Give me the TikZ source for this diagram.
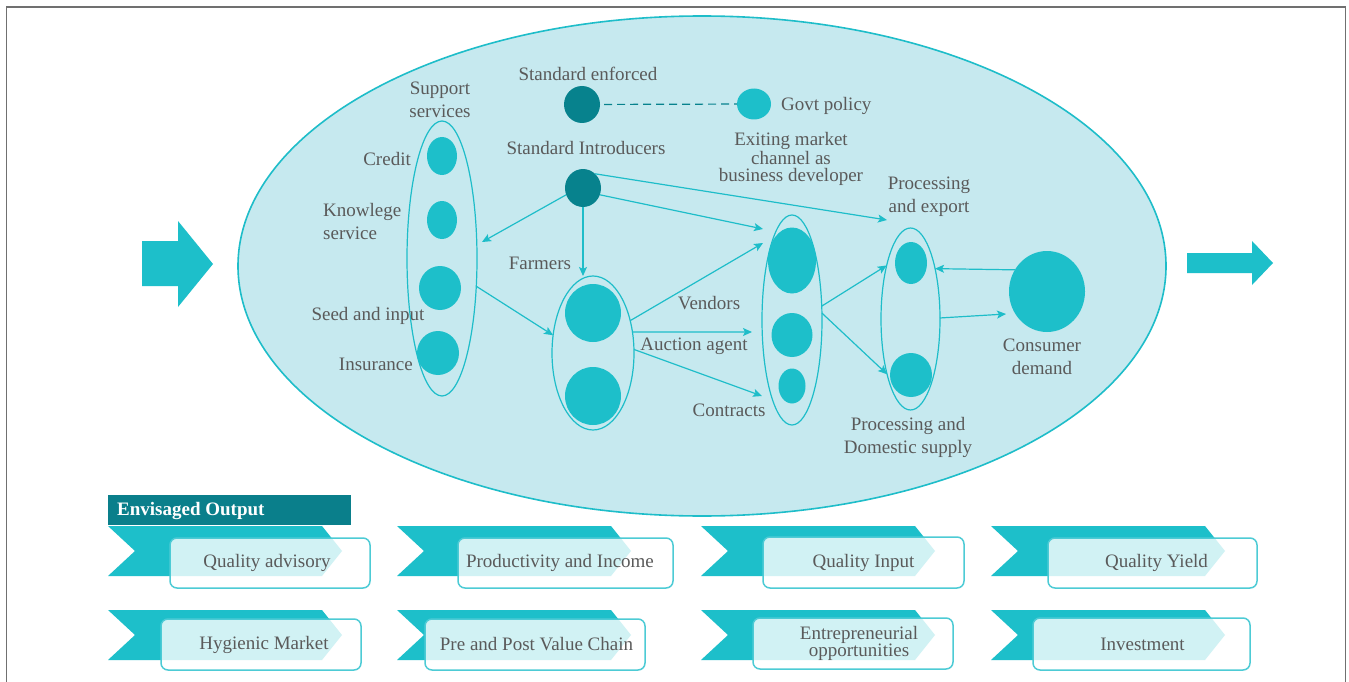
\documentclass[tikz,border=0pt]{standalone}
\usepackage{fontspec}
\setmainfont{Liberation Serif}
\usetikzlibrary{shapes.geometric,arrows.meta}
\definecolor{teallt}{HTML}{1DBFCA}
\definecolor{tealdk}{HTML}{07828D}
\definecolor{bgell}{HTML}{C6E9EF}
\definecolor{edgec}{HTML}{1EBDC9}
\definecolor{txt}{HTML}{5A5A5A}
\definecolor{boxedge}{HTML}{4DCBD5}
\definecolor{framec}{HTML}{707070}
\definecolor{barc}{HTML}{0A7F8B}
\newcommand\mychev[2]{\fill[teallt] (#1,#2) -- ++(214,0) -- ++(20,25) -- ++(-20,25) -- ++(-214,0) -- ++(27,-25) -- cycle;}
\newcommand\shiftx[2]{\hspace*{#1pt}#2\hspace*{-#1pt}}
\begin{document}
\begin{tikzpicture}[x=1pt,y=-1pt,
  lbl/.style={font=\fontsize{19}{23}\selectfont, text=txt, inner sep=0pt, align=center},
  dot/.style={ellipse, fill=teallt, draw=none, inner sep=0pt, outer sep=0pt},
  grp/.style={ellipse, draw=edgec, line width=1.2pt, inner sep=0pt, outer sep=0pt},
  arr/.style={draw=edgec, line width=1.2pt, -{Stealth[length=9pt,width=8pt,inset=2pt]}},
  outbox/.style={rectangle, rounded corners=7pt, draw=boxedge, line width=1.5pt, fill=white, fill opacity=0.8, text opacity=1, text=txt, font=\fontsize{19}{17}\selectfont, inner sep=0pt, align=center}
]
\useasboundingbox (0,0) rectangle (1349,682);
\fill[white] (0,0) rectangle (1349,682);
\draw[framec, line width=1.6pt] (6.5,690) -- (6.5,7) -- (1345.5,7) -- (1345.5,690);

% big ellipse
\node[ellipse, draw=edgec, fill=bgell, line width=1.6pt, inner sep=0pt, minimum width=928pt, minimum height=500pt] (big) at (702,266) {};

% big arrows
\fill[teallt] (142,241) -- (178,241) -- (178,221) -- (213,264) -- (178,307) -- (178,286) -- (142,286) -- cycle;
\fill[teallt] (1187,253) -- (1252,253) -- (1252,241) -- (1273,263) -- (1252,285) -- (1252,273) -- (1187,273) -- cycle;

% support services
\node[grp, minimum width=70pt, minimum height=275pt] (sup) at (442,258.5) {};
\node[dot, minimum width=30pt, minimum height=38pt] (cr) at (442,156) {};
\node[dot, minimum width=30pt, minimum height=38pt] (kn) at (442,220) {};
\node[dot, minimum width=42pt, minimum height=44pt] (sd) at (440,288) {};
\node[dot, minimum width=42pt, minimum height=44pt] (ins) at (438,353) {};
\node[lbl] (supl) at (440,99.5) {Support\\services};
\node[lbl, anchor=east] (crl) at (411,159) {Credit};
\node[lbl, anchor=west, align=left] (knl) at (323,222) {Knowlege\\service};
\node[lbl] (sdl) at (368,316) {Seed and input};
\node[lbl, anchor=east] (insl) at (413,364) {Insurance};

% standards
\node[lbl] (sel) at (588,74) {Standard enforced};
\node[dot, fill=tealdk, minimum width=36pt, minimum height=37pt] (se) at (582,104.5) {};
\node[dot, minimum width=34pt, minimum height=31pt] (gp) at (754,104) {};
\node[lbl, anchor=west] (gpl) at (781,106) {Govt policy};
\node[lbl] (sil) at (586,148) {Standard Introducers};
\node[dot, fill=tealdk, minimum width=36pt, minimum height=38pt] (si) at (583,188) {};
\node[lbl, font=\fontsize{19}{17}\selectfont] (exl) at (791,159) {Exiting market\\channel as\\business developer};
\draw[tealdk, line width=1.2pt, dash pattern=on 8pt off 5pt, shorten <=4pt] (se) -- (gp);

% farmers
\node[lbl] (fal) at (540,263) {Farmers};
\node[grp, minimum width=82pt, minimum height=154pt] (fe) at (593,353) {};
\node[dot, minimum width=56pt, minimum height=58pt] (fa1) at (593,313) {};
\node[dot, minimum width=56pt, minimum height=58pt] (fa2) at (593,396) {};

% middle column
\node[grp, minimum width=60pt, minimum height=210pt] (mc) at (792,320) {};
\node[dot, minimum width=48pt, minimum height=66pt] (m1) at (792,260.5) {};
\node[dot, minimum width=41pt, minimum height=44pt] (m2) at (792,335) {};
\node[dot, minimum width=27pt, minimum height=35pt] (m3) at (792,386) {};
\node[lbl] (vel) at (709,303) {Vendors};
\node[lbl] (aul) at (694,346) {Auction agent};
\node[lbl] (col) at (729,410) {Contracts};

% processing
\node[grp, minimum width=59pt, minimum height=182pt] (pe) at (910.5,319) {};
\node[dot, minimum width=32pt, minimum height=42pt] (p1) at (911,263) {};
\node[dot, minimum width=42pt, minimum height=44pt] (p2) at (911,375) {};
\node[lbl] (pel) at (929,197) {Processing\\and export};
\node[lbl] (pdl) at (908,437) {Processing and\\Domestic supply};

% consumer
\node[dot, minimum width=76pt, minimum height=81pt] (cd) at (1047,291.5) {};
\node[lbl] (cdl) at (1042,357) {Consumer\\demand};

% arrow tips
\coordinate (tsup) at (482,242);
\coordinate (tmc) at (763,229);
\coordinate (tpe) at (887,220);
\coordinate (tv) at (763,243);
\coordinate (ta) at (752,332);
\coordinate (tc) at (762,396);
\coordinate (tcd) at (1006,314);

\draw[arr] (si.202) -- (tsup);
\draw[arr] (si.south) -- (si.south |- fe.north);
\draw[arr] (si.-22) -- (tmc);
\draw[arr] (si.50) -- (tpe);
\draw[arr] (sup.-39) -- (fe.156);
\draw[arr] (fe.41) -- (tv);
\draw[arr] (fe.28) -- (ta);
\draw[arr] (fe.5) -- (tc);
\draw[arr] (mc.25) -- (pe.114);
\draw[arr] (mc.13) -- (pe.247);
\draw[arr] (cd.146) -- (pe.64);
\draw[arr] (pe.2) -- (tcd);

% envisaged output
\fill[barc] (108,495) rectangle (351,525);
\node[font=\fontsize{19}{23}\selectfont\bfseries, text=white, anchor=west, inner sep=0pt] (eo) at (117,511) {Envisaged Output};

\mychev{108}{526}
\mychev{397}{526}
\mychev{701}{526}
\mychev{991}{526}
\mychev{108}{610}
\mychev{397}{610}
\mychev{701}{610}
\mychev{991}{610}

\node[outbox, minimum width=200pt, minimum height=50pt] (o1) at (270,563) {\shiftx{-3}{Quality advisory}};
\node[outbox, minimum width=215pt, minimum height=50pt] (o2) at (565.5,563) {\shiftx{-5.5}{Productivity and Income}};
\node[outbox, minimum width=201pt, minimum height=51pt] (o3) at (863.5,562.5) {Quality Input};
\node[outbox, minimum width=209pt, minimum height=50pt] (o4) at (1152.5,563) {\shiftx{4}{Quality Yield}};
\node[outbox, minimum width=200pt, minimum height=51pt] (o5) at (261,644.5) {\shiftx{3}{Hygienic Market}};
\node[outbox, minimum width=220pt, minimum height=51pt] (o6) at (535,644.5) {\shiftx{1.5}{\raisebox{-3pt}{Pre and Post Value Chain}}};
\node[outbox, minimum width=200pt, minimum height=51pt] (o7) at (853,643.5) {\shiftx{6}{Entrepreneurial}\\\shiftx{6}{opportunities}};
\node[outbox, minimum width=217pt, minimum height=52pt] (o8) at (1141.5,644) {\shiftx{1}{Investment}};
\end{tikzpicture}
\end{document}
